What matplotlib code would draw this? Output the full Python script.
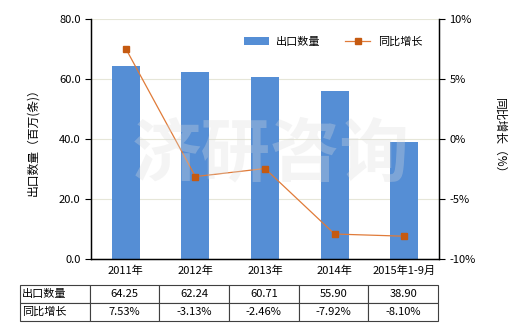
import matplotlib
matplotlib.use("Agg")
import matplotlib.pyplot as plt
import numpy as np

plt.rcParams['font.family'] = ['Noto Sans CJK SC', 'DejaVu Sans']

# data
years = ['2011年', '2012年', '2013年', '2014年', '2015年1-9月']
export_qty = [64.25, 62.24, 60.71, 55.90, 38.90]
yoy_growth = [7.53, -3.13, -2.46, -7.92, -8.10]
row_names = ['出口数量', '同比增长']
qty_ticks = [0, 20, 40, 60, 80]
pct_ticks = [-10, -5, 0, 5, 10]

bar_color = '#558ED5'
line_color = '#E07B39'
marker_color = '#C55A11'

fig = plt.figure(figsize=(5.2, 3.3), dpi=100)
ax = fig.add_axes([91 / 520, 1 - 259 / 330, 348 / 520, 240 / 330])
x = np.arange(len(years))

ax.bar(x, export_qty, width=0.4, color=bar_color, zorder=2, label='出口数量')
ax.set_xlim(-0.5, len(years) - 0.5)
ax.set_ylim(0, 80)
ax.set_yticks(qty_ticks)
ax.set_yticklabels([f'{v:.1f}' for v in qty_ticks], fontsize=8)
ax.grid(axis='y', color='#E6E6D8', linewidth=0.8, zorder=0)
ax.set_xticks(x)
ax.set_xticklabels(years, fontsize=8)
ax.tick_params(axis='x', length=0, pad=5)
ax.tick_params(axis='y', length=4, width=0.8)
ax.spines['top'].set_visible(False)
for s in ['left', 'right', 'bottom']:
    ax.spines[s].set_linewidth(1)
    ax.spines[s].set_color('black')
ax.set_ylabel('出口数量（百万(条)）', fontsize=8.5, labelpad=14)

ax2 = ax.twinx()
ax2.plot(x, yoy_growth, color=line_color, linewidth=0.9, marker='s',
         markersize=4, markerfacecolor=marker_color, markeredgecolor=marker_color,
         zorder=3, label='同比增长')
ax2.set_ylim(-10, 10)
ax2.set_yticks(pct_ticks)
ax2.set_yticklabels([f'{v}%' for v in pct_ticks], fontsize=8)
ax2.tick_params(axis='y', length=4, width=0.8)
ax2.spines['top'].set_visible(False)
ax2.set_ylabel('同比增长（%）', fontsize=8.5, rotation=-90, labelpad=22)

# faint watermark
fig.text(0.52, 0.53, '济研咨询', fontsize=50, color='#DCDCDC', alpha=0.3,
         ha='center', va='center', fontweight='bold', zorder=10)

h1, l1 = ax.get_legend_handles_labels()
h2, l2 = ax2.get_legend_handles_labels()
ax2.legend(h1 + h2, l1 + l2, loc='upper right', bbox_to_anchor=(0.98, 0.97),
           ncol=2, frameon=False, fontsize=8, handlelength=2.2,
           columnspacing=2.2, handletextpad=0.7)

# data table under the chart
cells = [[row_names[0]] + [f'{v:.2f}' for v in export_qty],
         [row_names[1]] + [f'{v:.2f}%' for v in yoy_growth]]
tbl = ax.table(cellText=cells, cellLoc='center',
               bbox=[(20 - 91) / 348, (259 - 321) / 240, (438 - 20) / 348, 36 / 240])
tbl.auto_set_font_size(False)
tbl.set_fontsize(8)
for (r, c), cell in tbl.get_celld().items():
    cell.set_edgecolor('#404040')
    cell.set_linewidth(0.8)
    if c == 0:
        cell.get_text().set_ha('left')
        cell._loc = 'left'
        cell.PAD = 0.03

fig.savefig('out.png', dpi=100)
